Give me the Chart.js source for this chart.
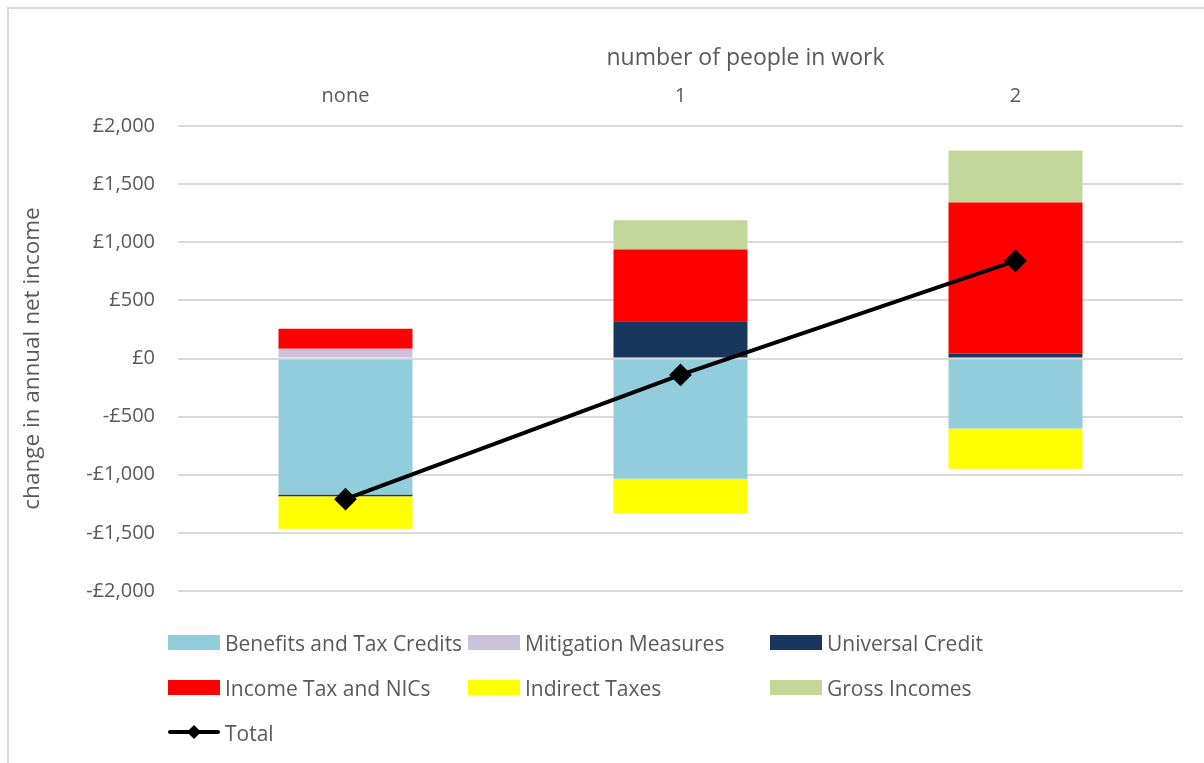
<!DOCTYPE html>
<html>
<head>
<meta charset="utf-8">
<title>Change in annual net income by number of people in work</title>
<script src="https://cdn.jsdelivr.net/npm/chart.js@4.4.1/dist/chart.umd.min.js"></script>
<style>
    html, body {
        margin: 0;
        padding: 0;
        background: #ffffff;
    }
    #wrap {
        position: relative;
        width: 1204px;
        height: 763px;
        overflow: hidden;
    }
    #frame {
        position: absolute;
        left: 7px;
        top: 7px;
        right: -4px;
        bottom: -4px;
        border-left: 2px solid #d9d9d9;
        border-top: 2px solid #d9d9d9;
        pointer-events: none;
    }
    #legend {
        position: absolute;
        left: 168px;
        top: 620px;
        display: grid;
        grid-template-columns: 300px 302px 300px;
        grid-auto-rows: 45px;
        font-family: "Open Sans", sans-serif;
        font-size: 21px;
        color: #595959;
    }
    .item {
        display: flex;
        align-items: center;
        height: 45px;
        white-space: nowrap;
    }
    .swatch {
        width: 52px;
        height: 15px;
        margin-right: 5px;
        flex: none;
    }
    .lineKey {
        position: relative;
        width: 52px;
        height: 15px;
        margin-right: 5px;
        flex: none;
    }
    .lineKey .bar {
        position: absolute;
        left: 0;
        right: 0;
        top: 5px;
        height: 4px;
        background: #000;
        border-radius: 2px;
    }
    .lineKey .dot {
        position: absolute;
        left: 21px;
        top: 2px;
        width: 10px;
        height: 10px;
        background: #000;
        transform: rotate(45deg);
    }
</style>
</head>
<body>
<div id="wrap">
    <canvas id="chart" width="1204" height="763"></canvas>
    <div id="frame"></div>
    <div id="legend"></div>
</div>
<script>
// categories along the top axis
const workers = ['none', '1', '2'];

// components of the change in annual net income (£)
const benefitsTaxCredits = [-1170, -1035, -602];
const mitigationMeasures = [83, 0, 0];
const universalCredit = [-15, 321, 43];
const incomeTaxNICs = [172, 616, 1299];
const indirectTaxes = [-280, -295, -347];
const grossIncomes = [0, 252, 447];

// overall change
const total = [-1210, -141, 840];

// y axis ticks
const yMin = -2000;
const yMax = 2000;
const yStep = 500;

const textColor = '#595959';
const fontFamily = '"Open Sans", sans-serif';

function formatPounds(v) {
    const s = '£' + Math.abs(v).toLocaleString('en-GB');
    return v < 0 ? '-' + s : s;
}

function barSet(label, values, color) {
    return {
        type: 'bar',
        label: label,
        data: values,
        backgroundColor: color,
        borderWidth: 0,
        stack: 'parts',
        order: 1,
        categoryPercentage: 1.0,
        barPercentage: 0.4
    };
}

const datasets = [
    barSet('Benefits and Tax Credits', benefitsTaxCredits, '#92cddc'),
    barSet('Mitigation Measures', mitigationMeasures, '#ccc0da'),
    barSet('Universal Credit', universalCredit, '#17375e'),
    barSet('Income Tax and NICs', incomeTaxNICs, '#ff0000'),
    barSet('Indirect Taxes', indirectTaxes, '#ffff00'),
    barSet('Gross Incomes', grossIncomes, '#c4d79b'),
    {
        type: 'line',
        label: 'Total',
        data: total,
        borderColor: '#000000',
        backgroundColor: '#000000',
        borderWidth: 4,
        pointStyle: 'rectRot',
        pointRadius: 8.5,
        pointHoverRadius: 8.5,
        stack: 'total',
        order: 0
    }
];

// the top axis title sits a little right of the plot centre
const topAxisTitle = {
    id: 'topAxisTitle',
    afterDraw: function(chart) {
        const area = chart.chartArea;
        const c = chart.ctx;
        c.save();
        c.fillStyle = textColor;
        c.font = '23px ' + fontFamily;
        c.textAlign = 'center';
        c.textBaseline = 'middle';
        c.fillText('number of people in work', (area.left + area.right) / 2 + 65, 58);
        c.restore();
    }
};

const ctx = document.getElementById('chart').getContext('2d');
const chart = new Chart(ctx, {
    data: {
        labels: workers,
        datasets: datasets
    },
    plugins: [topAxisTitle],
    options: {
        responsive: false,
        animation: false,
        layout: {
            padding: { top: 0, left: 0, right: 21, bottom: 172 }
        },
        plugins: {
            legend: { display: false },
            tooltip: { enabled: false }
        },
        scales: {
            x: {
                position: 'top',
                stacked: true,
                grid: { display: false, drawTicks: false },
                border: { display: false },
                ticks: {
                    color: textColor,
                    padding: 18,
                    font: { family: fontFamily, size: 20 }
                },
                afterFit: function(scale) {
                    scale.height = 126;
                }
            },
            y: {
                stacked: true,
                min: yMin,
                max: yMax,
                grid: {
                    color: '#d9d9d9',
                    lineWidth: 2,
                    drawTicks: false
                },
                border: { display: false },
                ticks: {
                    stepSize: yStep,
                    color: textColor,
                    padding: 23,
                    font: { family: fontFamily, size: 20 },
                    callback: function(value) {
                        return formatPounds(value);
                    }
                },
                title: {
                    display: true,
                    text: 'change in annual net income',
                    color: textColor,
                    padding: 19,
                    font: { family: fontFamily, size: 22.5 }
                },
                afterFit: function(scale) {
                    scale.width = 178;
                }
            }
        }
    }
});

// legend laid out in three columns, built from the chart's datasets
const legendEl = document.getElementById('legend');
chart.data.datasets.forEach(function(ds) {
    const item = document.createElement('div');
    item.className = 'item';
    if (ds.type === 'line') {
        item.innerHTML = '<span class="lineKey"><span class="bar"></span><span class="dot"></span></span>';
    } else {
        item.innerHTML = '<span class="swatch" style="background:' + ds.backgroundColor + '"></span>';
    }
    const label = document.createElement('span');
    label.innerText = ds.label;
    item.appendChild(label);
    legendEl.appendChild(item);
});
</script>
</body>
</html>
